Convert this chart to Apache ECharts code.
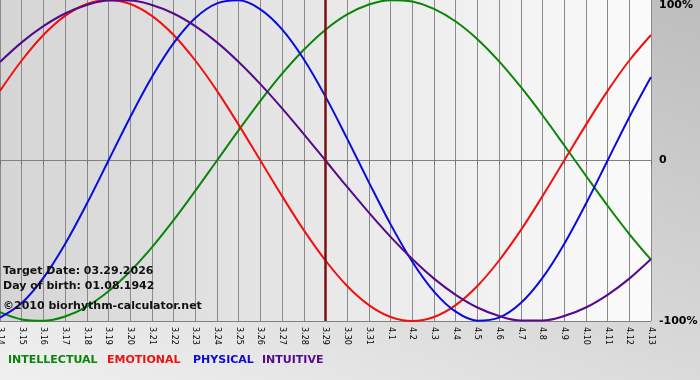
<!DOCTYPE html>
<html><head><meta charset="utf-8">
<script src="https://cdn.jsdelivr.net/npm/echarts@6/dist/echarts.min.js"></script>
<style>
html,body{margin:0;padding:0;}
#c{width:700px;height:380px;background:linear-gradient(20deg,#f0f0f0 0%,#d8d8d8 45%,#bdbdbd 100%);}
</style></head>
<body><div id="c"></div>
<script>
var days = ['3.14','3.15','3.16','3.17','3.18','3.19','3.20','3.21','3.22','3.23','3.24','3.25','3.26','3.27','3.28','3.29','3.30','3.31','4.1','4.2','4.3','4.4','4.5','4.6','4.7','4.8','4.9','4.10','4.11','4.12','4.13'];
var intellectual = [-94.5,-99.0,-99.9,-97.2,-91.0,-81.5,-69.0,-54.1,-37.2,-18.9,0,18.9,37.2,54.1,69.0,81.5,91.0,97.2,99.9,99.0,94.5,86.6,75.6,61.8,45.8,28.2,9.5,-9.5,-28.2,-45.8,-61.8];
var emotional = [43.4,62.3,78.2,90.1,97.5,100,97.5,90.1,78.2,62.3,43.4,22.2,0,-22.2,-43.4,-62.3,-78.2,-90.1,-97.5,-100,-97.5,-90.1,-78.2,-62.3,-43.4,-22.2,0,22.2,43.4,62.3,78.2];
var physical = [-97.9,-88.8,-73.1,-52.0,-27.0,0,27.0,52.0,73.1,88.8,97.9,99.8,94.2,81.7,63.1,39.8,13.6,-13.6,-39.8,-63.1,-81.7,-94.2,-99.8,-97.9,-88.8,-73.1,-52.0,-27.0,0,27.0,52.0];
var intuitive = [61.4,73.6,83.7,91.6,96.9,99.7,99.7,96.9,91.6,83.7,73.6,61.4,47.6,32.5,16.5,0,-16.5,-32.5,-47.6,-61.4,-73.6,-83.7,-91.6,-96.9,-99.7,-99.7,-96.9,-91.6,-83.7,-73.6,-61.4];
var targetDay = '3.29';
var yTicks = {'-100':'-100%','0':'0','100':'100%'};
var legendNames = ['INTELLECTUAL','EMOTIONAL','PHYSICAL','INTUITIVE'];
var infoLines = ['Target Date: 03.29.2026','Day of birth: 01.08.1942','\u00a92010 biorhythm-calculator.net'];

var colors = {INTELLECTUAL:'#0a850a',EMOTIONAL:'#f01010',PHYSICAL:'#0b0bdc',INTUITIVE:'#550a8c'};
var chart = echarts.init(document.getElementById('c'));
var font = '"DejaVu Sans", Verdana, sans-serif';
function ser(name, data, extra){
  var s = {name:name,type:'line',data:data,smooth:0.35,symbol:'none',
    lineStyle:{color:colors[name],width:2},itemStyle:{color:colors[name]},z:3};
  if(extra) for(var k in extra) s[k]=extra[k];
  return s;
}
var legendX = [8,107,193,262];
var graphics = [];
legendNames.forEach(function(n,i){
  graphics.push({type:'text',left:legendX[i],top:355,style:{text:n,fill:colors[n],font:'bold 11px '+font}});
});
var infoY = [266,281,301];
infoLines.forEach(function(t,i){
  graphics.push({type:'text',left:3,top:infoY[i],z:10,style:{text:t,fill:'#111',font:'bold 11px '+font}});
});
chart.setOption({
  animation:false,
  grid:{left:0,right:49,top:0,bottom:59,show:true,borderWidth:0,outerBoundsMode:'none',containLabel:false,
    backgroundColor:new echarts.graphic.LinearGradient(0,0,1,0,[{offset:0,color:'#d5d5d5'},{offset:1,color:'#fbfbfb'}])},
  xAxis:{type:'category',data:days,boundaryGap:false,
    axisLine:{show:true,lineStyle:{color:'#808080',width:1}},
    axisTick:{show:true,length:4,lineStyle:{color:'#707070'}},
    splitLine:{show:true,lineStyle:{color:'#8a8a8a',width:1}},
    axisLabel:{rotate:-90,interval:0,fontSize:8,color:'#000',fontFamily:font,margin:6,hideOverlap:false}},
  yAxis:{type:'value',position:'right',min:-100,max:100,interval:100,
    axisLine:{show:false},axisTick:{show:false},
    splitLine:{show:true,lineStyle:{color:['#808080','#808080','rgba(0,0,0,0)'],width:1}},
    axisLabel:{margin:8,fontSize:11,fontWeight:'bold',color:'#000',fontFamily:font,
      verticalAlignMaxLabel:'top',
      formatter:function(v){return yTicks[String(v)];}}},
  graphic:graphics,
  series:[
    ser('INTELLECTUAL',intellectual,{markLine:{silent:true,symbol:'none',label:{show:false},
      lineStyle:{color:'#7a1010',width:2.5,type:'solid'},data:[{xAxis:targetDay}]}}),
    ser('EMOTIONAL',emotional),
    ser('PHYSICAL',physical),
    ser('INTUITIVE',intuitive)
  ]
});
</script></body></html>
